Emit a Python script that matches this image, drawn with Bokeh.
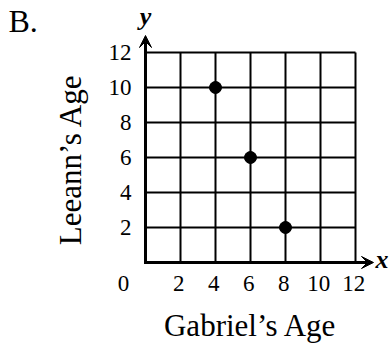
import math
from bokeh.plotting import figure
from bokeh.models import Arrow, VeeHead, Range1d
from bokeh.core.properties import value
from bokeh.embed import file_html
from bokeh.resources import INLINE

# data
gabriel_age = [4, 6, 8]
leeann_age = [10, 6, 2]
x_ticks = [2, 4, 6, 8, 10, 12]
y_ticks = [2, 4, 6, 8, 10, 12]
x_tick_labels = ["2", "4", "6", "8", "10", "12"]
y_tick_labels = ["2", "4", "6", "8", "10", "12"]
origin_label = "0"
grid_max = 12
x_title = "Gabriel\u2019s Age"
y_title = "Leeann\u2019s Age"
panel_label = "B."
x_name = "x"
y_name = "y"

FONT = "Liberation Serif"
W, H = 392, 343
PX = 17.5          # pixels per unit
OX, OY = 145, 262  # pixel position of the origin

p = figure(width=W, height=H,
           x_range=Range1d(-OX / PX, (W - OX) / PX),
           y_range=Range1d(-(H - OY) / PX, OY / PX),
           output_backend="svg", toolbar_location=None,
           x_axis_location=None, y_axis_location=None,
           min_border=0)
p.outline_line_color = None
p.grid.visible = False
p.background_fill_color = "white"
p.border_fill_color = "white"

# grid lines
p.segment(x0=x_ticks, y0=[0] * len(x_ticks), x1=x_ticks, y1=[grid_max] * len(x_ticks),
          line_color="black", line_width=2)
p.segment(x0=[0] * len(y_ticks), y0=y_ticks, x1=[grid_max] * len(y_ticks), y1=y_ticks,
          line_color="black", line_width=2)

# axes with arrows
x_tip = (373 - OX) / PX
y_tip = (OY - 35) / PX
p.add_layout(Arrow(end=VeeHead(size=12, fill_color="black", line_color="black", line_width=1),
                   x_start=-0.08, y_start=0, x_end=x_tip, y_end=0,
                   line_width=3, line_color="black"))
p.add_layout(Arrow(end=VeeHead(size=12, fill_color="black", line_color="black", line_width=1),
                   x_start=0, y_start=-0.08, x_end=0, y_end=y_tip,
                   line_width=3, line_color="black"))

# points
p.scatter(gabriel_age, leeann_age, size=12, color="black")

# tick labels
p.text(x=[t - 0.1 for t in x_ticks], y=[-(283 - OY) / PX] * len(x_ticks), text=x_tick_labels,
       text_font=value(FONT), text_font_size=value("23px"), text_color="black",
       text_align="center", text_baseline="middle")
p.text(x=[-(OX - 131) / PX] * len(y_ticks), y=y_ticks, text=y_tick_labels,
       text_font=value(FONT), text_font_size=value("23px"), text_color="black",
       text_align="right", text_baseline="middle")
p.text(x=[-(OX - 123) / PX], y=[-(283 - OY) / PX], text=[origin_label],
       text_font=value(FONT), text_font_size=value("23px"), text_color="black",
       text_align="center", text_baseline="middle")

# axis titles
p.text(x=[grid_max / 2], y=[-(324.5 - OY) / PX], text=[x_title],
       text_font=value(FONT), text_font_size=value("31px"), text_color="black",
       text_align="center", text_baseline="middle")
p.text(x=[-(OX - 70) / PX], y=[(OY - 159) / PX], text=[y_title], angle=math.pi / 2,
       text_font=value(FONT), text_font_size=value("31px"), text_color="black",
       text_align="center", text_baseline="middle")

# axis names
p.text(x=[(375 - OX) / PX], y=[-(259 - OY) / PX], text=[x_name],
       text_font=value(FONT), text_font_size=value("26px"), text_font_style="bold italic",
       text_color="black", text_align="left", text_baseline="middle")
p.text(x=[0], y=[(OY - 15.5) / PX], text=[y_name],
       text_font=value(FONT), text_font_size=value("26px"), text_font_style="bold italic",
       text_color="black", text_align="center", text_baseline="middle")

# panel label
p.text(x=[-(OX - 8) / PX], y=[(OY - 20) / PX], text=[panel_label],
       text_font=value(FONT), text_font_size=value("32px"), text_color="black",
       text_align="left", text_baseline="middle")

open("out.html", "w").write(file_html(p, INLINE))
